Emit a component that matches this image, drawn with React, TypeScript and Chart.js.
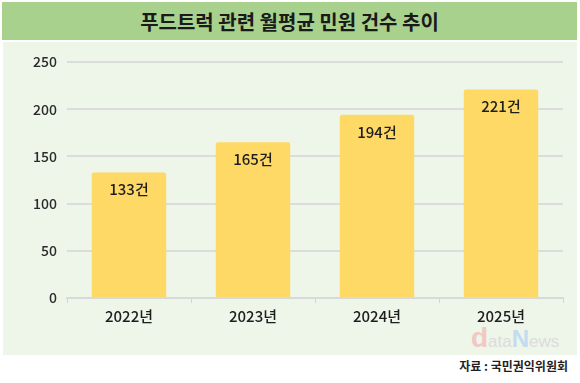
import React, { useEffect, useRef } from "react";
import { Chart, registerables } from "chart.js";

Chart.register(...registerables);

const categories = ["2022년", "2023년", "2024년", "2025년"];
const values = [133, 165, 194, 221];
const valueLabels = ["133건", "165건", "194건", "221건"];
const yTicks = [0, 50, 100, 150, 200, 250];

const FONT = "'Noto Sans CJK KR', 'Noto Sans', sans-serif";

const labelPlugin = {
  id: "barLabels",
  afterDatasetsDraw(chart: any) {
    const ctx = chart.ctx;
    const meta = chart.getDatasetMeta(0);
    ctx.save();
    ctx.font = `500 15px ${FONT}`;
    ctx.fillStyle = "#1e1e1e";
    ctx.textAlign = "center";
    ctx.textBaseline = "middle";
    meta.data.forEach((bar: any, i: number) => {
      ctx.fillText(valueLabels[i], bar.x, bar.y + 17);
    });
    ctx.restore();
  },
};

function BarChart() {
  const ref = useRef<HTMLCanvasElement | null>(null);
  useEffect(() => {
    if (!ref.current) return;
    const chart = new Chart(ref.current, {
      type: "bar",
      data: {
        labels: categories,
        datasets: [
          {
            data: values,
            backgroundColor: "#ffd966",
            borderWidth: 0,
            borderRadius: 2,
            barPercentage: 0.6,
            categoryPercentage: 1,
          },
        ],
      },
      options: {
        animation: false,
        responsive: false,
        maintainAspectRatio: false,
        layout: { padding: { left: 0, right: 17, top: 20, bottom: 0 } },
        plugins: { legend: { display: false }, tooltip: { enabled: false } },
        scales: {
          x: {
            grid: {
              display: true,
              drawOnChartArea: false,
              drawTicks: true,
              tickLength: 5,
              color: "#d6d6d6",
              lineWidth: 1,
            },
            border: { display: true, color: "#d9d9d9", width: 2 },
            ticks: {
              padding: 4,
              color: "#1e1e1e",
              font: { family: FONT, size: 15, weight: "500" as any },
            },
            afterFit(scale: any) {
              scale.height = 57;
            },
          },
          y: {
            min: 0,
            max: 250,
            afterBuildTicks(scale: any) {
              scale.ticks = yTicks.map((v) => ({ value: v }));
            },
            grid: {
              color: "#dcdcdc",
              lineWidth: 2,
              drawTicks: false,
            },
            border: { display: false },
            ticks: {
              padding: 10,
              color: "#2a2a2a",
              font: { family: FONT, size: 14, weight: "500" as any },
            },
            afterFit(scale: any) {
              scale.width = 67;
            },
          },
        },
      },
      plugins: [labelPlugin],
    });
    return () => chart.destroy();
  }, []);
  return (
    <canvas
      ref={ref}
      width={580}
      height={313}
      style={{ position: "absolute", left: 0, top: 42, width: 580, height: 313 }}
    />
  );
}

export default function App() {
  useEffect(() => {
    document.body.style.margin = "0";
  }, []);
  return (
    <div
      style={{
        position: "relative",
        width: 580,
        height: 383,
        background: "#ffffff",
        overflow: "hidden",
        fontFamily: FONT,
      }}
    >
      <div
        style={{
          position: "absolute",
          left: 2,
          top: 2,
          width: 575,
          height: 38,
          background: "#a9d18e",
          display: "flex",
          alignItems: "center",
          justifyContent: "center",
          fontSize: 20,
          fontWeight: 700,
          color: "#1a1a1a",
        }}
      >
        푸드트럭 관련 월평균 민원 건수 추이
      </div>
      <div
        style={{
          position: "absolute",
          left: 3,
          top: 42,
          width: 574,
          height: 313,
          background: "#eef5e9",
        }}
      />
      <div
        style={{
          position: "absolute",
          left: 471,
          top: 324,
          fontFamily: "'Liberation Sans', Arial, sans-serif",
          fontSize: 17,
          lineHeight: "28px",
          letterSpacing: 0,
        }}
      >
        <span style={{ color: "#f0c8c4", fontSize: 28, fontWeight: 700 }}>d</span>
        <span style={{ color: "#dcdcdc" }}>ata</span>
        <span style={{ color: "#c4dcef", fontSize: 24, fontWeight: 700 }}>N</span>
        <span style={{ color: "#dcdcdc" }}>ews</span>
      </div>
      <BarChart />
      <div
        style={{
          position: "absolute",
          right: 12,
          top: 357,
          fontSize: 12,
          fontWeight: 700,
          color: "#1f1f1f",
          whiteSpace: "nowrap",
        }}
      >
        자료 : 국민권익위원회
      </div>
    </div>
  );
}
